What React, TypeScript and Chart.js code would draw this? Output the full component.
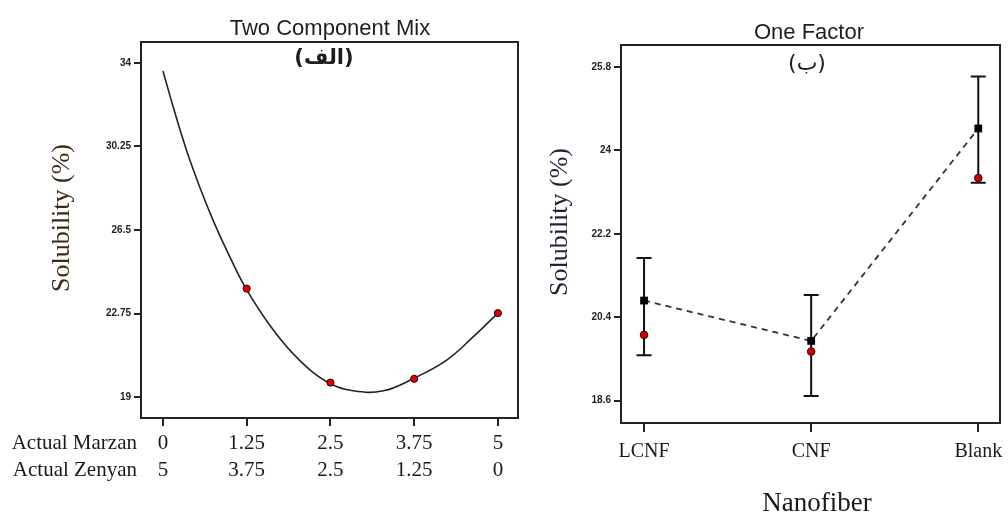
import React, { useEffect, useRef } from "react";
import { Chart, registerables } from "chart.js";
Chart.register(...registerables);

// ---------- Left panel: Two Component Mix ----------
const mixTitle = "Two Component Mix";
const mixTag = "(الف)";
const mixTicks = [0, 1.25, 2.5, 3.75, 5];
const marzanLabels = ["0", "1.25", "2.5", "3.75", "5"];
const zenyanLabels = ["5", "3.75", "2.5", "1.25", "0"];
const mixRowNames = ["Actual Marzan", "Actual Zenyan"];
const mixYTicks = [19, 22.75, 26.5, 30.25, 34];
const curveX = [0, 0.155, 0.354, 0.55, 0.75, 0.95, 1.24, 1.65, 2.04, 2.47, 2.84, 3.29, 3.73, 4.23, 4.63, 5];
const curveY = [33.64, 32.0, 30.06, 28.42, 26.92, 25.6, 23.87, 22.0, 20.65, 19.64, 19.28, 19.28, 19.82, 20.65, 21.7, 22.77];
const designX = [1.25, 2.5, 3.75, 5];
const designY = [23.87, 19.65, 19.82, 22.77];

// ---------- Right panel: One Factor ----------
const factorTitle = "One Factor";
const factorTag = "(ب)";
const nanofibers = ["LCNF", "CNF", "Blank"];
const factorYTicks = [18.6, 20.4, 22.2, 24, 25.8];
const meanY = [20.76, 19.89, 24.47];
const upperY = [21.68, 20.88, 25.59];
const lowerY = [19.58, 18.7, 23.3];
const observedY = [20.02, 19.66, 23.4];

const yTitle = "Solubility (%)";
const xTitleRight = "Nanofiber";

const SERIF = "'Liberation Serif', 'Times New Roman', serif";
const SANS = "'Liberation Sans', Arial, sans-serif";

function boxPlugin(id: string, draw: (ctx: CanvasRenderingContext2D, chart: any) => void) {
  return {
    id,
    beforeDatasetsDraw(chart: any) {
      const { ctx, chartArea: a } = chart;
      ctx.save();
      ctx.strokeStyle = "#222";
      ctx.lineWidth = 2;
      ctx.strokeRect(a.left, a.top, a.right - a.left, a.bottom - a.top);
      ctx.restore();
    },
    afterDraw(chart: any) {
      const ctx = chart.ctx as CanvasRenderingContext2D;
      ctx.save();
      ctx.direction = "ltr";
      draw(ctx, chart);
      ctx.restore();
    },
  };
}

function tickGrid(len: number) {
  return { display: true, drawOnChartArea: false, drawTicks: true, tickLength: len, color: "#222", lineWidth: 2 };
}

export default function App() {
  const leftRef = useRef<HTMLCanvasElement>(null);
  const rightRef = useRef<HTMLCanvasElement>(null);

  useEffect(() => {
    const left = new Chart(leftRef.current!, {
      type: "scatter",
      data: {
        datasets: [
          {
            label: "design",
            data: designX.map((x, i) => ({ x, y: designY[i] })),
            showLine: false,
            pointRadius: 3.6,
            pointBackgroundColor: "#e00000",
            pointBorderColor: "#300",
            pointBorderWidth: 1,
          },
          {
            label: "fit",
            data: curveX.map((x, i) => ({ x, y: curveY[i] })),
            showLine: true,
            pointRadius: 0,
            borderColor: "#222",
            borderWidth: 1.6,
            tension: 0.4,
            fill: false,
          },
        ],
      },
      options: {
        animation: false,
        responsive: false,
        maintainAspectRatio: false,
        layout: { padding: { left: 0, right: 6, top: 42, bottom: 0 } },
        plugins: { legend: { display: false }, tooltip: { enabled: false }, title: { display: false } },
        scales: {
          x: {
            type: "linear",
            min: -0.328,
            max: 5.3,
            afterBuildTicks: (s: any) => {
              s.ticks = mixTicks.map((v) => ({ value: v }));
            },
            afterFit: (s: any) => {
              s.height = 97;
              s.paddingLeft = 0;
              s.paddingRight = 0;
            },
            grid: tickGrid(8),
            border: { display: false },
            ticks: {
              autoSkip: false,
              maxRotation: 0,
              padding: 3.5,
              color: "#1a1a1a",
              font: { family: SERIF, size: 21, lineHeight: 27 / 21 },
              callback: (v: any) => {
                const i = mixTicks.indexOf(Number(v));
                return [marzanLabels[i], zenyanLabels[i]];
              },
            },
          },
          y: {
            type: "linear",
            min: 18.06,
            max: 34.94,
            afterBuildTicks: (s: any) => {
              s.ticks = mixYTicks.map((v) => ({ value: v }));
            },
            afterFit: (s: any) => {
              s.width = 141;
              s.paddingTop = 0;
              s.paddingBottom = 0;
            },
            grid: tickGrid(7),
            border: { display: false },
            ticks: {
              autoSkip: false,
              padding: 3,
              color: "#222",
              font: { family: SANS, size: 10, weight: "bold" },
              callback: (v: any) => String(v),
            },
          },
        },
      },
      plugins: [
        boxPlugin("leftDecor", (ctx) => {
          ctx.fillStyle = "#1e1e1e";
          ctx.font = `22px ${SANS}`;
          ctx.textAlign = "center";
          ctx.textBaseline = "alphabetic";
          ctx.fillText(mixTitle, 330, 35);
          ctx.font = `bold 21px 'DejaVu Sans', sans-serif`;
          ctx.textBaseline = "middle";
          ctx.fillText(mixTag, 324, 59);
          ctx.font = `21px ${SERIF}`;
          ctx.fillStyle = "#1a1a1a";
          ctx.textAlign = "right";
          ctx.fillText(mixRowNames[0], 137, 443);
          ctx.fillText(mixRowNames[1], 137, 470);
          ctx.save();
          ctx.translate(62, 218);
          ctx.rotate(-Math.PI / 2);
          ctx.textAlign = "center";
          ctx.fillStyle = "#3b2a16";
          ctx.font = `26px ${SERIF}`;
          ctx.fillText(yTitle, 0, 0);
          ctx.restore();
        }),
      ],
    } as any);

    const errorBars = {
      id: "errorBars",
      beforeDatasetsDraw(chart: any) {
        const { ctx, scales } = chart;
        ctx.save();
        ctx.strokeStyle = "#111";
        ctx.lineWidth = 2;
        nanofibers.forEach((_, i) => {
          const x = scales.x.getPixelForValue(i);
          const yt = scales.y.getPixelForValue(upperY[i]);
          const yb = scales.y.getPixelForValue(lowerY[i]);
          ctx.beginPath();
          ctx.moveTo(x, yt);
          ctx.lineTo(x, yb);
          ctx.moveTo(x - 7.5, yt);
          ctx.lineTo(x + 7.5, yt);
          ctx.moveTo(x - 7.5, yb);
          ctx.lineTo(x + 7.5, yb);
          ctx.stroke();
        });
        ctx.restore();
      },
    };

    const right = new Chart(rightRef.current!, {
      type: "scatter",
      data: {
        datasets: [
          {
            label: "observed",
            data: observedY.map((y, i) => ({ x: i, y })),
            showLine: false,
            pointRadius: 3.8,
            pointBackgroundColor: "#d00000",
            pointBorderColor: "#300",
            pointBorderWidth: 1,
          },
          {
            label: "mean",
            data: meanY.map((y, i) => ({ x: i, y })),
            showLine: false,
            pointStyle: "rect",
            pointRadius: 5.5,
            pointBackgroundColor: "#000",
            pointBorderColor: "#000",
            pointBorderWidth: 0,
          },
          {
            label: "meanLine",
            data: meanY.map((y, i) => ({ x: i, y })),
            showLine: true,
            pointRadius: 0,
            borderColor: "#333",
            borderWidth: 1.8,
            borderDash: [6, 5],
            fill: false,
          },
        ],
      },
      options: {
        animation: false,
        responsive: false,
        maintainAspectRatio: false,
        layout: { padding: { left: 0, right: 8, top: 45, bottom: 0 } },
        plugins: { legend: { display: false }, tooltip: { enabled: false }, title: { display: false } },
        scales: {
          x: {
            type: "linear",
            min: -0.138,
            max: 2.13,
            afterBuildTicks: (s: any) => {
              s.ticks = nanofibers.map((_, i) => ({ value: i }));
            },
            afterFit: (s: any) => {
              s.height = 92;
              s.paddingLeft = 0;
              s.paddingRight = 0;
            },
            grid: tickGrid(9),
            border: { display: false },
            ticks: {
              autoSkip: false,
              maxRotation: 0,
              padding: 8,
              color: "#1a1a1a",
              font: { family: SERIF, size: 20, lineHeight: 1.2 },
              callback: (v: any) => nanofibers[Number(v)] ?? "",
            },
          },
          y: {
            type: "linear",
            min: 18.12,
            max: 26.27,
            afterBuildTicks: (s: any) => {
              s.ticks = factorYTicks.map((v) => ({ value: v }));
            },
            afterFit: (s: any) => {
              s.width = 101;
              s.paddingTop = 0;
              s.paddingBottom = 0;
            },
            grid: tickGrid(7),
            border: { display: false },
            ticks: {
              autoSkip: false,
              padding: 3,
              color: "#222",
              font: { family: SANS, size: 10, weight: "bold" },
              callback: (v: any) => String(v),
            },
          },
        },
      },
      plugins: [
        errorBars,
        boxPlugin("rightDecor", (ctx) => {
          ctx.fillStyle = "#1e1e1e";
          ctx.font = `22px ${SANS}`;
          ctx.textAlign = "center";
          ctx.textBaseline = "alphabetic";
          ctx.fillText(factorTitle, 289, 39);
          ctx.font = `22px 'DejaVu Sans', sans-serif`;
          ctx.textBaseline = "middle";
          ctx.fillText(factorTag, 287, 64);
          ctx.font = `27px ${SERIF}`;
          ctx.textBaseline = "alphabetic";
          ctx.fillStyle = "#1a1a1a";
          ctx.fillText(xTitleRight, 297, 511);
          ctx.save();
          ctx.translate(40, 222);
          ctx.rotate(-Math.PI / 2);
          ctx.textAlign = "center";
          ctx.textBaseline = "middle";
          ctx.fillStyle = "#1f2336";
          ctx.font = `26px ${SERIF}`;
          ctx.fillText(yTitle, 0, 0);
          ctx.restore();
        }),
      ],
    } as any);

    return () => {
      left.destroy();
      right.destroy();
    };
  }, []);

  return (
    <div style={{ position: "absolute", left: 0, top: 0, width: 1008, height: 515, background: "#fff", overflow: "hidden" }}>
      <canvas ref={leftRef} width={524} height={515} style={{ position: "absolute", left: 0, top: 0, width: 524, height: 515 }} />
      <canvas ref={rightRef} width={488} height={515} style={{ position: "absolute", left: 520, top: 0, width: 488, height: 515 }} />
    </div>
  );
}
